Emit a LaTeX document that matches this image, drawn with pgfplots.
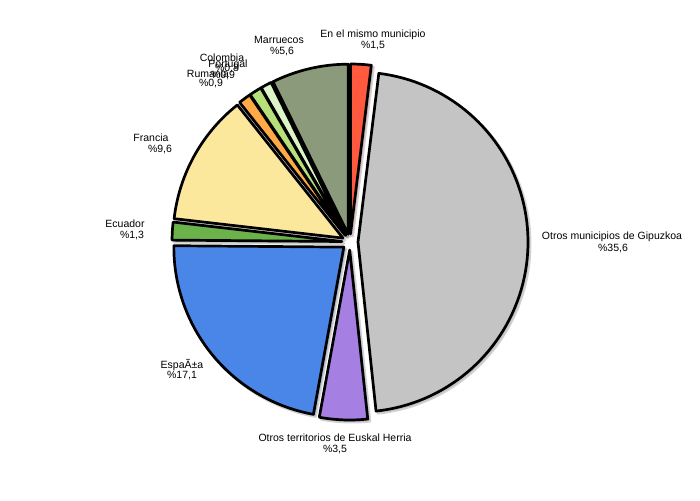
\documentclass[border=0pt]{standalone}
\usepackage{pgfplots}
\pgfplotsset{compat=1.18}
\usepackage{fontspec}
\setmainfont{Liberation Sans}
\definecolor{cA}{HTML}{FF5A3D}
\definecolor{cB}{HTML}{C4C4C4}
\definecolor{cC}{HTML}{A67FE3}
\definecolor{cD}{HTML}{4A86E8}
\definecolor{cE}{HTML}{6BB24A}
\definecolor{cF}{HTML}{FCE89C}
\definecolor{cG}{HTML}{FFAA47}
\definecolor{cH}{HTML}{B8E07A}
\definecolor{cI}{HTML}{DDF4C8}
\definecolor{cJ}{HTML}{8C9A7C}
\pgfmathsetmacro\total{1.5+35.6+3.5+17.1+1.3+9.6+0.9+0.9+0.8+5.6}
\gdef\cum{0}
\newcommand\pieslice[3]{%
 \pgfmathsetmacro\aS{90-\cum/\total*360}%
 \pgfmathsetmacro\aE{90-(\cum+#1)/\total*360}%
 \pgfmathsetmacro\aM{(\aS+\aE)/2}%
 \pgfmathsetmacro\cx{350+8*cos(\aM)}%
 \pgfmathsetmacro\cy{258+8*sin(\aM)}%
 \edef\doit{\noexpand\addplot[#3, domain=\aE:\aS, samples=80, variable=\noexpand\t] ({\cx+170*cos(\noexpand\t)},{\cy+170*sin(\noexpand\t)}) -- (axis cs:\cx,\cy) -- cycle;}%
 \doit
 \pgfmathsetmacro\newcum{\cum+#1}%
 \xdef\cum{\newcum}%
}
\newcommand\allslices[1]{%
 \gdef\cum{0}%
 \pieslice{1.5}{cA}{#1,fill=cA}%
 \pieslice{35.6}{cB}{#1,fill=cB}%
 \pieslice{3.5}{cC}{#1,fill=cC}%
 \pieslice{17.1}{cD}{#1,fill=cD}%
 \pieslice{1.3}{cE}{#1,fill=cE}%
 \pieslice{9.6}{cF}{#1,fill=cF}%
 \pieslice{0.9}{cG}{#1,fill=cG}%
 \pieslice{0.9}{cH}{#1,fill=cH}%
 \pieslice{0.8}{cI}{#1,fill=cI}%
 \pieslice{5.6}{cJ}{#1,fill=cJ}%
}
\newcommand\lbl[3]{\node[font=\fontsize{10.5}{12}\selectfont, inner sep=0pt] at (axis cs:#1,{500-#2}) {#3};}
\begin{document}
\begin{tikzpicture}
\begin{axis}[
  scale only axis, width=700pt, height=500pt,
  xmin=0, xmax=700, ymin=0, ymax=500,
  hide axis, clip=false,
]
\path (axis cs:0,0) (axis cs:700,500);
\allslices{draw=black!50, line width=3pt, opacity=0.35, xshift=2pt, yshift=-2pt, line join=round}
\allslices{draw=black, line width=2.7pt, line join=round}
\lbl{373}{35}{En el mismo municipio}
\lbl{373}{46}{\%1,5}
\lbl{279}{40}{Marruecos}
\lbl{282}{52}{\%5,6}
\lbl{222}{58}{Colombia}
\lbl{227}{69}{\%0,8}
\lbl{228}{65}{Portugal}
\lbl{223}{76}{\%0,9}
\lbl{208}{74}{Rumania}
\lbl{211}{84}{\%0,9}
\lbl{151}{138}{Francia}
\lbl{160}{150}{\%9,6}
\lbl{125}{224}{Ecuador}
\lbl{132}{236}{\%1,3}
\lbl{182}{365}{EspaÃ±a}
\lbl{182}{376}{\%17,1}
\lbl{335}{438}{Otros territorios de Euskal Herria}
\lbl{335}{450}{\%3,5}
\lbl{612}{237}{Otros municipios de Gipuzkoa}
\lbl{613}{249}{\%35,6}
\end{axis}
\end{tikzpicture}
\end{document}
